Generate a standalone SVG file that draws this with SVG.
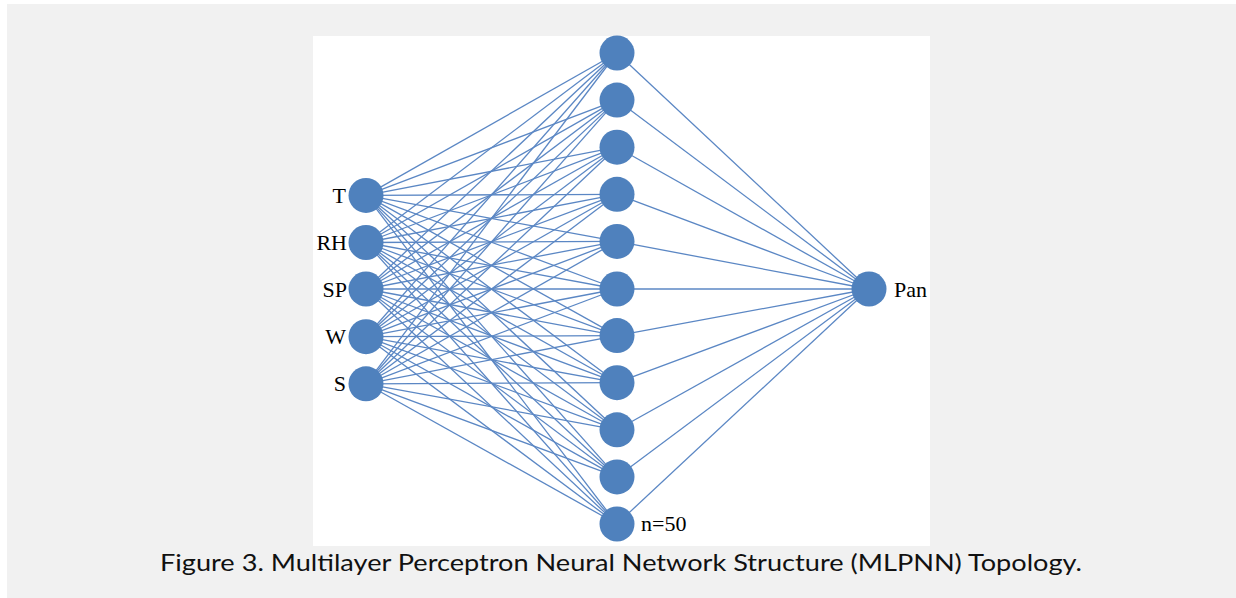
<svg xmlns="http://www.w3.org/2000/svg" width="1236" height="598" viewBox="0 0 1236 598">
<style>
.n{fill:#4f81bd}
.c line{stroke:#5b87c4;stroke-width:1.3}
.l{font-family:"Liberation Serif",serif;font-size:22px;fill:#000}
.cap{font-family:Lato,"Open Sans",sans-serif;font-size:24px;fill:#111}
</style>
<rect x="0" y="0" width="1236" height="598" fill="#fff"/>
<rect x="7" y="4" width="1229" height="594" fill="#f1f1f1"/>
<rect x="313" y="36" width="617" height="510" fill="#fff"/>
<g class="c" id="connectors">
<line x1="366" y1="195.4" x2="617" y2="53"/><line x1="366" y1="195.4" x2="617" y2="100.1"/><line x1="366" y1="195.4" x2="617" y2="147.2"/><line x1="366" y1="195.4" x2="617" y2="194.3"/><line x1="366" y1="195.4" x2="617" y2="241.4"/><line x1="366" y1="195.4" x2="617" y2="289"/><line x1="366" y1="195.4" x2="617" y2="335.6"/><line x1="366" y1="195.4" x2="617" y2="382.7"/><line x1="366" y1="195.4" x2="617" y2="429.8"/><line x1="366" y1="195.4" x2="617" y2="476.9"/><line x1="366" y1="195.4" x2="617" y2="524"/>
<line x1="366" y1="242.5" x2="617" y2="53"/><line x1="366" y1="242.5" x2="617" y2="100.1"/><line x1="366" y1="242.5" x2="617" y2="147.2"/><line x1="366" y1="242.5" x2="617" y2="194.3"/><line x1="366" y1="242.5" x2="617" y2="241.4"/><line x1="366" y1="242.5" x2="617" y2="289"/><line x1="366" y1="242.5" x2="617" y2="335.6"/><line x1="366" y1="242.5" x2="617" y2="382.7"/><line x1="366" y1="242.5" x2="617" y2="429.8"/><line x1="366" y1="242.5" x2="617" y2="476.9"/><line x1="366" y1="242.5" x2="617" y2="524"/>
<line x1="366" y1="289" x2="617" y2="53"/><line x1="366" y1="289" x2="617" y2="100.1"/><line x1="366" y1="289" x2="617" y2="147.2"/><line x1="366" y1="289" x2="617" y2="194.3"/><line x1="366" y1="289" x2="617" y2="241.4"/><line x1="366" y1="289" x2="617" y2="289"/><line x1="366" y1="289" x2="617" y2="335.6"/><line x1="366" y1="289" x2="617" y2="382.7"/><line x1="366" y1="289" x2="617" y2="429.8"/><line x1="366" y1="289" x2="617" y2="476.9"/><line x1="366" y1="289" x2="617" y2="524"/>
<line x1="366" y1="336.7" x2="617" y2="53"/><line x1="366" y1="336.7" x2="617" y2="100.1"/><line x1="366" y1="336.7" x2="617" y2="147.2"/><line x1="366" y1="336.7" x2="617" y2="194.3"/><line x1="366" y1="336.7" x2="617" y2="241.4"/><line x1="366" y1="336.7" x2="617" y2="289"/><line x1="366" y1="336.7" x2="617" y2="335.6"/><line x1="366" y1="336.7" x2="617" y2="382.7"/><line x1="366" y1="336.7" x2="617" y2="429.8"/><line x1="366" y1="336.7" x2="617" y2="476.9"/><line x1="366" y1="336.7" x2="617" y2="524"/>
<line x1="366" y1="383.8" x2="617" y2="53"/><line x1="366" y1="383.8" x2="617" y2="100.1"/><line x1="366" y1="383.8" x2="617" y2="147.2"/><line x1="366" y1="383.8" x2="617" y2="194.3"/><line x1="366" y1="383.8" x2="617" y2="241.4"/><line x1="366" y1="383.8" x2="617" y2="289"/><line x1="366" y1="383.8" x2="617" y2="335.6"/><line x1="366" y1="383.8" x2="617" y2="382.7"/><line x1="366" y1="383.8" x2="617" y2="429.8"/><line x1="366" y1="383.8" x2="617" y2="476.9"/><line x1="366" y1="383.8" x2="617" y2="524"/>
<line x1="617" y1="53" x2="869" y2="289"/><line x1="617" y1="100.1" x2="869" y2="289"/><line x1="617" y1="147.2" x2="869" y2="289"/><line x1="617" y1="194.3" x2="869" y2="289"/><line x1="617" y1="241.4" x2="869" y2="289"/><line x1="617" y1="289" x2="869" y2="289"/><line x1="617" y1="335.6" x2="869" y2="289"/><line x1="617" y1="382.7" x2="869" y2="289"/><line x1="617" y1="429.8" x2="869" y2="289"/><line x1="617" y1="476.9" x2="869" y2="289"/><line x1="617" y1="524" x2="869" y2="289"/>
</g>
<g id="in-T"><circle class="n" cx="366" cy="195.4" r="17.5"/><text class="l" x="346" y="203" text-anchor="end">T</text></g>
<g id="in-RH"><circle class="n" cx="366" cy="242.5" r="17.5"/><text class="l" x="347" y="250" text-anchor="end">RH</text></g>
<g id="in-SP"><circle class="n" cx="366" cy="289" r="17.5"/><text class="l" x="347" y="297" text-anchor="end">SP</text></g>
<g id="in-W"><circle class="n" cx="366" cy="336.7" r="17.5"/><text class="l" x="346" y="344" text-anchor="end">W</text></g>
<g id="in-S"><circle class="n" cx="366" cy="383.8" r="17.5"/><text class="l" x="346" y="391" text-anchor="end">S</text></g>
<g id="h1"><circle class="n" cx="617" cy="53" r="17.5"/></g>
<g id="h2"><circle class="n" cx="617" cy="100.1" r="17.5"/></g>
<g id="h3"><circle class="n" cx="617" cy="147.2" r="17.5"/></g>
<g id="h4"><circle class="n" cx="617" cy="194.3" r="17.5"/></g>
<g id="h5"><circle class="n" cx="617" cy="241.4" r="17.5"/></g>
<g id="h6"><circle class="n" cx="617" cy="289" r="17.5"/></g>
<g id="h7"><circle class="n" cx="617" cy="335.6" r="17.5"/></g>
<g id="h8"><circle class="n" cx="617" cy="382.7" r="17.5"/></g>
<g id="h9"><circle class="n" cx="617" cy="429.8" r="17.5"/></g>
<g id="h10"><circle class="n" cx="617" cy="476.9" r="17.5"/></g>
<g id="h11"><circle class="n" cx="617" cy="524" r="17.5"/><text class="l" x="641" y="531">n=50</text></g>
<g id="out-Pan"><circle class="n" cx="869" cy="289" r="17.5"/><text class="l" x="894" y="297">Pan</text></g>
<text class="cap" x="160" y="571" textLength="922" lengthAdjust="spacingAndGlyphs">Figure 3. Multilayer Perceptron Neural Network Structure (MLPNN) Topology.</text>
</svg>
